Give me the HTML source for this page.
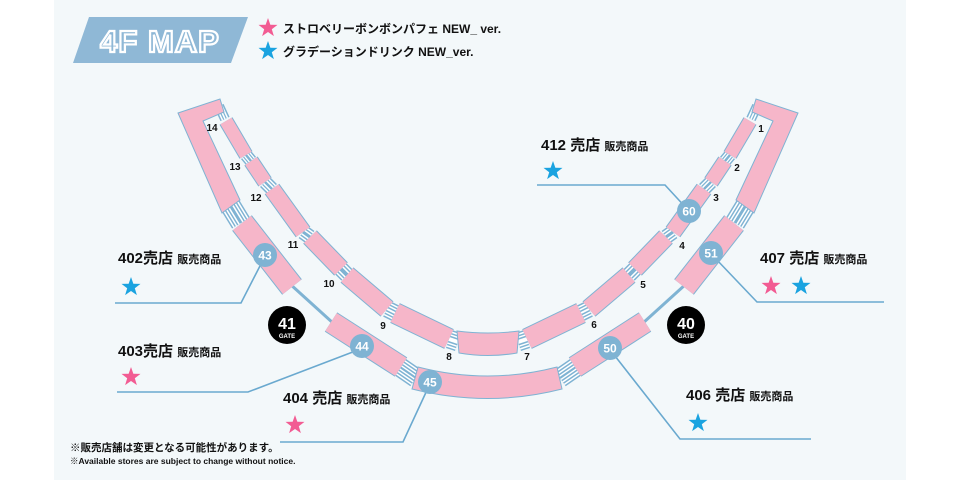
<!DOCTYPE html>
<html><head><meta charset="utf-8"><style>
html,body{margin:0;padding:0;background:#fff;}
body{width:960px;height:480px;overflow:hidden;position:relative;}
svg{position:absolute;left:0;top:0;}
text{font-family:"Liberation Sans","Noto Sans CJK JP",sans-serif;font-weight:bold;}
.bo{stroke:#7fb3d3;fill:none;}
.pk{stroke:#f6b6c9;fill:none;}
.sb{stroke:#7fb3d3;fill:none;}
.sw{stroke:#ffffff;fill:none;}
</style></head><body>
<svg width="960" height="480" viewBox="0 0 960 480">
<defs>
<path id="star" d="M0,-10 L2.35,-3.2 9.5,-3.1 3.8,1.2 5.9,8.1 0,4 -5.9,8.1 -3.8,1.2 -9.5,-3.1 -2.35,-3.2Z"/>
<g id="half">
  <!-- inner stairs -->
  <g>
    <line x1="246" y1="155" x2="251" y2="161" class="sb" stroke-width="13"/><line x1="246" y1="155" x2="251" y2="161" class="sw" stroke-width="10"/><line x1="246" y1="155" x2="251" y2="161" class="sb" stroke-width="7.5"/><line x1="246" y1="155" x2="251" y2="161" class="sw" stroke-width="5"/><line x1="246" y1="155" x2="251" y2="161" class="sb" stroke-width="2.5"/>
    <line x1="265" y1="182" x2="272" y2="189" class="sb" stroke-width="14"/><line x1="265" y1="182" x2="272" y2="189" class="sw" stroke-width="11"/><line x1="265" y1="182" x2="272" y2="189" class="sb" stroke-width="8"/><line x1="265" y1="182" x2="272" y2="189" class="sw" stroke-width="5.5"/><line x1="265" y1="182" x2="272" y2="189" class="sb" stroke-width="2.5"/>
    <line x1="303" y1="232" x2="310" y2="237" class="sb" stroke-width="15"/><line x1="303" y1="232" x2="310" y2="237" class="sw" stroke-width="12"/><line x1="303" y1="232" x2="310" y2="237" class="sb" stroke-width="9"/><line x1="303" y1="232" x2="310" y2="237" class="sw" stroke-width="6"/><line x1="303" y1="232" x2="310" y2="237" class="sb" stroke-width="3"/>
    <line x1="341" y1="269" x2="347" y2="275" class="sb" stroke-width="16"/><line x1="341" y1="269" x2="347" y2="275" class="sw" stroke-width="13"/><line x1="341" y1="269" x2="347" y2="275" class="sb" stroke-width="10"/><line x1="341" y1="269" x2="347" y2="275" class="sw" stroke-width="7"/><line x1="341" y1="269" x2="347" y2="275" class="sb" stroke-width="4"/>
    <line x1="387" y1="309" x2="395" y2="313" class="sb" stroke-width="17"/><line x1="387" y1="309" x2="395" y2="313" class="sw" stroke-width="14"/><line x1="387" y1="309" x2="395" y2="313" class="sb" stroke-width="11"/><line x1="387" y1="309" x2="395" y2="313" class="sw" stroke-width="8"/><line x1="387" y1="309" x2="395" y2="313" class="sb" stroke-width="5"/><line x1="387" y1="309" x2="395" y2="313" class="sw" stroke-width="2"/>
    <line x1="449" y1="339" x2="458" y2="342" class="sb" stroke-width="19"/><line x1="449" y1="339" x2="458" y2="342" class="sw" stroke-width="16"/><line x1="449" y1="339" x2="458" y2="342" class="sb" stroke-width="13"/><line x1="449" y1="339" x2="458" y2="342" class="sw" stroke-width="10"/><line x1="449" y1="339" x2="458" y2="342" class="sb" stroke-width="7"/><line x1="449" y1="339" x2="458" y2="342" class="sw" stroke-width="4"/>
    <!-- outer stairs -->
    <line x1="230" y1="205" x2="241" y2="223" class="sb" stroke-width="21"/><line x1="230" y1="205" x2="241" y2="223" class="sw" stroke-width="18"/><line x1="230" y1="205" x2="241" y2="223" class="sb" stroke-width="15"/><line x1="230" y1="205" x2="241" y2="223" class="sw" stroke-width="12"/><line x1="230" y1="205" x2="241" y2="223" class="sb" stroke-width="9"/><line x1="230" y1="205" x2="241" y2="223" class="sw" stroke-width="6"/><line x1="230" y1="205" x2="241" y2="223" class="sb" stroke-width="3"/>
    <line x1="400" y1="367" x2="416" y2="378" class="sb" stroke-width="20"/><line x1="400" y1="367" x2="416" y2="378" class="sw" stroke-width="17"/><line x1="400" y1="367" x2="416" y2="378" class="sb" stroke-width="14"/><line x1="400" y1="367" x2="416" y2="378" class="sw" stroke-width="11"/><line x1="400" y1="367" x2="416" y2="378" class="sb" stroke-width="8"/><line x1="400" y1="367" x2="416" y2="378" class="sw" stroke-width="5"/><line x1="400" y1="367" x2="416" y2="378" class="sb" stroke-width="2"/>
    <line x1="219" y1="106" x2="225" y2="119" class="sb" stroke-width="10"/><line x1="219" y1="106" x2="225" y2="119" class="sw" stroke-width="7"/><line x1="219" y1="106" x2="225" y2="119" class="sb" stroke-width="4"/><line x1="219" y1="106" x2="225" y2="119" class="sw" stroke-width="1.5"/>
  </g>
  <!-- inner segments -->
  <line x1="226" y1="121" x2="246" y2="155" class="bo" stroke-width="15"/><line x1="226" y1="121" x2="246" y2="155" class="pk" stroke-width="13"/>
  <line x1="251" y1="161" x2="265" y2="182" class="bo" stroke-width="16"/><line x1="251" y1="161" x2="265" y2="182" class="pk" stroke-width="14"/>
  <line x1="272" y1="189" x2="303" y2="232" class="bo" stroke-width="18"/><line x1="272" y1="189" x2="303" y2="232" class="pk" stroke-width="16"/>
  <line x1="310" y1="237" x2="341" y2="269" class="bo" stroke-width="19"/><line x1="310" y1="237" x2="341" y2="269" class="pk" stroke-width="17"/>
  <line x1="347" y1="275" x2="387" y2="309" class="bo" stroke-width="20"/><line x1="347" y1="275" x2="387" y2="309" class="pk" stroke-width="18"/>
  <line x1="395" y1="313" x2="449" y2="339" class="bo" stroke-width="22"/><line x1="395" y1="313" x2="449" y2="339" class="pk" stroke-width="20"/>
  <!-- outer big box -->
  <polygon points="178,113 220,99 224,112 203,121 240,200 222,213" fill="#f6b6c9" stroke="#7fb3d3" stroke-width="1"/>
  <!-- connector 43-44 -->
  <line x1="290" y1="284" x2="333" y2="323" stroke="#7fb3d3" stroke-width="3"/>
  <line x1="242" y1="223" x2="292" y2="287" class="bo" stroke-width="25"/><line x1="242" y1="223" x2="292" y2="287" class="pk" stroke-width="23"/>
  <line x1="331" y1="322" x2="401" y2="367" class="bo" stroke-width="23"/><line x1="331" y1="322" x2="401" y2="367" class="pk" stroke-width="21"/>
</g>
</defs>
<rect x="54" y="0" width="852" height="480" fill="#f3f8fa"/>
<!-- header -->
<polygon points="89,17 248,17 231,63 73,63" fill="#8fb8d6"/>
<text x="160" y="52" font-size="31" text-anchor="middle" fill="#8fb8d6" stroke="#fff" stroke-width="2.2" letter-spacing="1">4F MAP</text>
<use href="#star" x="268" y="28" fill="#f25c93" transform="translate(0,0)"/>
<use href="#star" x="268" y="51" fill="#1aa3e0"/>
<text x="283" y="33" font-size="12" fill="#111">ストロベリーボンボンパフェ NEW_ ver.</text>
<text x="283" y="56" font-size="12" fill="#111">グラデーションドリンク NEW_ver.</text>

<!-- leader lines -->
<g stroke="#6aa9cf" stroke-width="1.6" fill="none">
<polyline points="537,185 665,185 689,211"/>
<polyline points="262,262 241,303 115,303"/>
<polyline points="358,350 248,392 117,392"/>
<polyline points="428,388 403,442 280,442"/>
<polyline points="615,356 680,439 811,439"/>
<polyline points="716,259 757,302 884,302"/>
</g>

<use href="#half"/>
<use href="#half" transform="translate(976,0) scale(-1,1)"/>
<!-- segment 8 -->
<path d="M457,331 Q488,335 519,331 L517,353 Q488,358 459,353 Z" fill="#f6b6c9" stroke="#7fb3d3" stroke-width="1"/>
<!-- segment 45 -->
<path d="M418,367 Q488,385 557,367 L562,389 Q488,408 412,389 Z" fill="#f6b6c9" stroke="#7fb3d3" stroke-width="1"/>

<!-- numbers -->
<g font-size="10" fill="#111" text-anchor="middle">
<text x="212" y="131">14</text><text x="235" y="170">13</text><text x="256" y="201">12</text>
<text x="293" y="248">11</text><text x="329" y="287">10</text><text x="383" y="329">9</text>
<text x="449" y="360">8</text><text x="527" y="360">7</text><text x="594" y="328">6</text>
<text x="643" y="288">5</text><text x="682" y="249">4</text><text x="716" y="201">3</text>
<text x="737" y="171">2</text><text x="761" y="132">1</text>
</g>
<!-- store circles -->
<g fill="#7fb3d3">
<circle cx="265" cy="255" r="12"/><circle cx="362" cy="346" r="12"/><circle cx="430" cy="382" r="12"/>
<circle cx="610" cy="348" r="12"/><circle cx="711" cy="253" r="12"/><circle cx="689" cy="211" r="12"/>
</g>
<g font-size="12" fill="#fff" text-anchor="middle">
<text x="265" y="259.5">43</text><text x="362" y="350.5">44</text><text x="430" y="386.5">45</text>
<text x="610" y="352.5">50</text><text x="711" y="257.5">51</text><text x="689" y="215.5">60</text>
</g>
<!-- gates -->
<circle cx="287" cy="325" r="19" fill="#000"/><circle cx="686" cy="325" r="19" fill="#000"/>
<g fill="#fff" text-anchor="middle">
<text x="287" y="329" font-size="16">41</text><text x="287" y="338" font-size="6">GATE</text>
<text x="686" y="329" font-size="16">40</text><text x="686" y="338" font-size="6">GATE</text>
</g>

<!-- store labels -->
<g fill="#111">
<text x="541" y="150" font-size="15">412 売店 <tspan font-size="11">販売商品</tspan></text>
<text x="118" y="263" font-size="15">402売店 <tspan font-size="11">販売商品</tspan></text>
<text x="118" y="356" font-size="15">403売店 <tspan font-size="11">販売商品</tspan></text>
<text x="283" y="403" font-size="15">404 売店 <tspan font-size="11">販売商品</tspan></text>
<text x="686" y="400" font-size="15">406 売店 <tspan font-size="11">販売商品</tspan></text>
<text x="760" y="263" font-size="15">407 売店 <tspan font-size="11">販売商品</tspan></text>
<text x="70" y="451" font-size="10.5">※販売店舗は変更となる可能性があります。</text>
<text x="70" y="464" font-size="8.5">※Available stores are subject to change without notice.</text>
</g>
<use href="#star" x="553" y="171" fill="#1aa3e0"/>
<use href="#star" x="131" y="287" fill="#1aa3e0"/>
<use href="#star" x="131" y="377" fill="#f25c93"/>
<use href="#star" x="295" y="425" fill="#f25c93"/>
<use href="#star" x="698" y="423" fill="#1aa3e0"/>
<use href="#star" x="771" y="286" fill="#f25c93"/>
<use href="#star" x="801" y="286" fill="#1aa3e0"/>
</svg>
</body></html>
